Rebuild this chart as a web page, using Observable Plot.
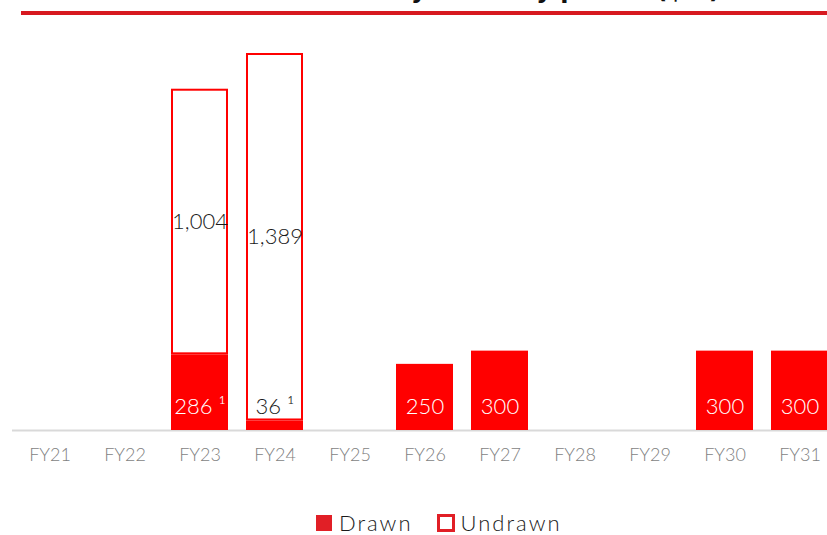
<!DOCTYPE html>
<html>
<head>
<meta charset="utf-8">
<script src="https://cdn.jsdelivr.net/npm/d3@7"></script>
<script src="https://cdn.jsdelivr.net/npm/@observablehq/plot@0.6"></script>
<style>
  body { margin: 0; background: #fff; font-family: Lato, "Noto Sans", sans-serif; }
  #head { position: relative; height: 20px; width: 827px; overflow: hidden; }
  #title { position: absolute; right: 107px; top: -22px; font: bold 24px "DejaVu Sans", sans-serif; line-height: 1; white-space: nowrap; color: #111; }
  #rule { position: absolute; left: 21px; top: 11px; width: 806px; height: 4px; background: #d71920; }
  #chart svg { display: block; }
  #legend { display: flex; align-items: center; height: 24px; line-height: 24px; margin-top: 21px; padding-left: 316px; font-size: 22px; font-weight: 300; letter-spacing: 2px; color: #1a1a1a; }
  .sw { width: 16px; height: 16px; background: #e11f26; margin-right: 7px; flex: none; }
  .sw.hollow { width: 18px; height: 18px; box-sizing: border-box; background: #fff; border: 3px solid #e11f26; margin-left: 24px; margin-right: 6px; }
</style>
</head>
<body>
<div id="head"><div id="title">Debt facility maturity profile ($m)</div><div id="rule"></div></div>
<div id="chart"></div>
<div id="legend"><span class="sw"></span><span>Drawn</span><span class="sw hollow"></span><span>Undrawn</span></div>
<script>
const years   = ["FY21","FY22","FY23","FY24","FY25","FY26","FY27","FY28","FY29","FY30","FY31"];
const drawn   = [0, 0, 286, 36, 0, 250, 300, 0, 0, 300, 300];
const undrawn = [0, 0, 1004, 1389, 0, 0, 0, 0, 0, 0, 0];
const notes   = ["", "", "¹", "¹", "", "", "", "", "", "", ""];

const data = years.map((year, i) => ({year, drawn: drawn[i], undrawn: undrawn[i], note: notes[i]}));
const fmt = d3.format(",");
const total = d => d.drawn + d.undrawn;
const lbl = d => fmt(d.drawn) + (d.note ? " " + d.note : "");

const chart = Plot.plot({
  width: 827,
  height: 470,
  marginTop: 33,
  marginBottom: 60,
  marginLeft: 12,
  marginRight: 0,
  style: "font-family: Lato, 'Noto Sans', sans-serif; font-weight: 300; background: transparent; overflow: visible;",
  x: {domain: years, range: [12, 837], paddingInner: 0.24, paddingOuter: 0.12, label: null},
  y: {domain: [0, d3.max(data, total)], axis: null},
  marks: [
    Plot.ruleY([0], {stroke: "#d9d9d9", strokeWidth: 2}),
    Plot.barY(data.filter(d => d.undrawn > 0), {x: "year", y1: "drawn", y2: total, fill: "white", stroke: "#ff0000", strokeWidth: 2, inset: 1}),
    Plot.barY(data.filter(d => d.drawn > 0), {x: "year", y1: 0, y2: "drawn", fill: "#ff0000"}),
    Plot.axisX({tickSize: 0, tickPadding: 18, fontSize: 18, color: "#7f7f7f", label: null}),
    Plot.text(data.filter(d => d.drawn >= 100), {x: "year", y: 0, dy: -24, text: lbl, fill: "white", fontSize: 22}),
    Plot.text(data.filter(d => d.drawn > 0 && d.drawn < 100), {x: "year", y: 0, dy: -24, text: lbl, fill: "#1a1a1a", fontSize: 22}),
    Plot.text(data.filter(d => d.undrawn > 0), {x: "year", y: d => d.drawn + d.undrawn / 2, text: d => fmt(d.undrawn), fill: "#1a1a1a", fontSize: 22})
  ]
});
document.getElementById("chart").append(chart);
</script>
</body>
</html>
